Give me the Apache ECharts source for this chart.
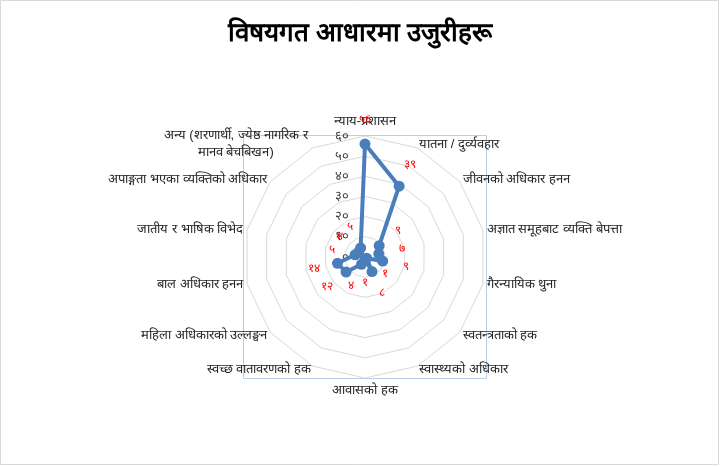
<!DOCTYPE html>
<html>
<head>
<meta charset="utf-8">
<script src="https://cdn.jsdelivr.net/npm/echarts@6/dist/echarts.min.js"></script>
<style>
html,body{margin:0;padding:0;background:#fff;}
#chart{width:720px;height:466px;}
</style>
</head>
<body>
<div id="chart"></div>
<script>
// विषयहरू (घडीको सुई दिशामा, माथिबाट)
var categories = [
  'न्याय-प्रशासन',
  'यातना / दुर्व्यवहार',
  'जीवनको अधिकार हनन',
  'अज्ञात समूहबाट व्यक्ति बेपत्ता',
  'गैरन्यायिक थुना',
  'स्वतन्त्रताको हक',
  'स्वास्थ्यको अधिकार',
  'आवासको हक',
  'स्वच्छ वातावरणको हक',
  'महिला अधिकारको उल्लङ्घन',
  'बाल अधिकार हनन',
  'जातीय र भाषिक विभेद',
  'अपाङ्गता भएका व्यक्तिको अधिकार',
  'अन्य (शरणार्थी, ज्येष्ठ नागरिक र\nमानव बेचबिखन)'
];
var complaints = [56, 39, 9, 7, 9, 1, 8, 1, 4, 12, 14, 5, 4, 5];
var tickLabels = ['०', '१०', '२०', '३०', '४०', '५०', '६०'];
var digits = ['०', '१', '२', '३', '४', '५', '६', '७', '८', '९'];

var CX = 365, CY = 257, R = 121;

function toNepali(n) {
  return String(n).replace(/\d/g, function (d) { return digits[+d]; });
}

// echarts को radar घडीको उल्टो दिशामा जान्छ, त्यसैले पहिलो बाहेक क्रम उल्टाउने
function clockwise(arr) {
  return [arr[0]].concat(arr.slice(1).reverse());
}

var indicators = clockwise(categories).map(function (c, i) {
  // दुई लाइनको नाम बीचमा मिलाउने
  var name = c.indexOf('\n') >= 0
    ? c.split('\n').map(function (l) { return '{c|' + l + '}'; }).join('\n')
    : c;
  var o = {name: name, max: 60, min: 0};
  if (i === 0) o.axisLabel = {show: true};
  return o;
});

var chart = echarts.init(document.getElementById('chart'));
var option = {
  backgroundColor: '#fff',
  title: {
    text: 'विषयगत आधारमा उजुरीहरू',
    left: 'center',
    top: 16,
    textStyle: {fontSize: 26, fontWeight: 'bold', color: '#000'}
  },
  graphic: [
    {type: 'rect', shape: {x: 0.5, y: 0.5, width: 718, height: 464},
     style: {fill: 'none', stroke: '#d9d9d9', lineWidth: 1}, silent: true},
    {type: 'rect', shape: {x: CX - R - 0.5, y: CY - R - 0.5, width: 2 * R + 1, height: 2 * R + 1},
     style: {fill: 'none', stroke: '#b9cde5', lineWidth: 1}, silent: true, z: -1}
  ],
  radar: {
    center: [CX, CY],
    radius: R,
    startAngle: 90,
    splitNumber: 6,
    shape: 'polygon',
    nameGap: 4,
    axisName: {
      color: '#262626', fontSize: 13, lineHeight: 17,
      rich: {c: {width: 150, align: 'center', color: '#262626', fontSize: 13, lineHeight: 17}}
    },
    axisLine: {show: false},
    axisTick: {show: false},
    splitLine: {lineStyle: {color: '#d9d9d9', width: 1}},
    splitArea: {show: false},
    axisLabel: {
      show: false,
      color: '#404040',
      fontSize: 13,
      margin: 0,
      align: 'right',
      padding: [0, 16, 0, 0],
      formatter: function (v) { return tickLabels[Math.round(v / 10)]; }
    },
    indicator: indicators
  },
  series: [{
    type: 'radar',
    symbol: 'circle',
    symbolSize: 11,
    lineStyle: {color: '#4a7ebb', width: 4},
    itemStyle: {color: '#4a7ebb'},
    label: {
      show: true,
      color: '#ff0000',
      fontSize: 12,
      formatter: function (p) { return toNepali(p.value); }
    },
    labelLayout: function (p) {
      var r = p.rect;
      var x = r.x + r.width / 2, y = r.y + r.height / 2;
      var dx = x - CX, dy = y - CY;
      var d = Math.sqrt(dx * dx + dy * dy) || 1;
      return {x: x + dx / d * 24, y: y + dy / d * 24, align: 'center', verticalAlign: 'middle'};
    },
    data: [{value: clockwise(complaints), name: 'उजुरी'}]
  }]
};
chart.setOption(option);
</script>
</body>
</html>
